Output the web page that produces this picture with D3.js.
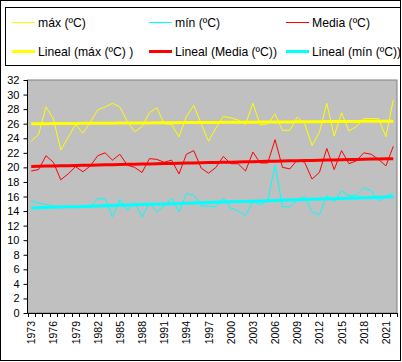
<!DOCTYPE html>
<head>
<meta charset="utf-8">
<style>
body { margin: 0; background: #fff; }
svg { display: block; font-family: Arial, "Liberation Sans", sans-serif; }
.axis text { fill: #000; }
</style>
</head>
<body>
<svg width="402" height="362"></svg>
<script src="https://cdnjs.cloudflare.com/ajax/libs/d3/7.8.5/d3.min.js"></script>
<script>

// data, 1973 - 2022
var years = d3.range(1973, 2023);

var maxT = [23.6, 24.5, 28.3, 26.7, 22.4, 24.1, 25.9, 24.7, 26.2, 27.9,
            28.3, 28.8, 28.3, 26.3, 24.9, 25.6, 27.5, 28.2, 26.0, 25.9,
            24.2, 27.0, 28.5, 26.0, 23.6, 25.4, 27.0, 26.8, 26.5, 25.9,
            28.8, 25.8, 26.0, 27.3, 25.1, 25.1, 26.9, 26.0, 23.0, 24.8,
            28.8, 24.3, 27.5, 25.0, 25.6, 26.7, 26.7, 26.7, 24.2, 29.3];

var minT = [15.4, 15.1, 14.9, 14.7, 14.5, 14.5, 14.5, 14.5, 14.6, 15.7,
            15.7, 13.2, 15.6, 14.1, 15.2, 13.2, 15.1, 13.9, 14.7, 15.8,
            13.9, 16.4, 16.2, 14.7, 14.7, 14.6, 15.8, 14.4, 14.0, 13.4,
            15.3, 14.9, 15.4, 20.3, 14.6, 14.6, 15.5, 16.0, 13.9, 13.5,
            16.1, 15.3, 16.8, 16.1, 16.2, 17.2, 16.8, 15.4, 16.0, 16.5];

var mediaT = [19.5, 19.7, 21.6, 20.7, 18.3, 19.1, 20.1, 19.4, 20.2, 21.6,
              22.0, 21.0, 21.8, 20.3, 20.0, 19.3, 21.2, 21.1, 20.7, 21.0,
              19.1, 21.8, 22.3, 19.9, 19.2, 20.0, 21.5, 20.5, 20.5, 19.5,
              22.1, 20.6, 20.6, 23.8, 20.0, 19.8, 21.0, 20.7, 18.4, 19.3,
              22.6, 19.7, 22.3, 20.5, 20.9, 22.0, 21.8, 21.1, 20.2, 22.9];

var yTicks = d3.range(0, 33, 2);
var labelYears = years.filter(function(d, i) { return i % 3 === 0; });

var svg = d3.select("svg");

var plot = { left: 27.5, right: 397, top: 80, bottom: 313 };

var x = d3.scaleBand()
    .domain(years)
    .range([plot.left, plot.right]);

var y = d3.scaleLinear()
    .domain([0, 32])
    .range([plot.bottom, plot.top]);

// outer frame
svg.append("rect")
    .attr("x", 0.5).attr("y", 0.5)
    .attr("width", 400).attr("height", 360)
    .attr("fill", "#fff")
    .attr("stroke", "#000");

// plot area
svg.append("rect")
    .attr("x", plot.left).attr("y", plot.top)
    .attr("width", plot.right - plot.left)
    .attr("height", plot.bottom - plot.top)
    .attr("fill", "#c0c0c0")
    .attr("stroke", "#808080");

// series lines
var line = d3.line()
    .x(function(d, i) { return x(years[i]) + x.bandwidth() / 2; })
    .y(function(d) { return y(d); });

// least squares fit, like the "Lineal" trendlines
function trend(values) {
  var mx = d3.mean(values, function(d, i) { return i; }),
      my = d3.mean(values),
      sxy = d3.sum(values, function(d, i) { return (i - mx) * (d - my); }),
      sxx = d3.sum(values, function(d, i) { return (i - mx) * (i - mx); }),
      b = sxy / sxx, a = my - b * mx;
  return values.map(function(d, i) { return a + b * i; });
}

var series = [
  { values: maxT,   color: "#ffff00" },
  { values: minT,   color: "#00ffff" },
  { values: mediaT, color: "#ff0000" }
];

series.forEach(function(s) {
  svg.append("path")
      .attr("d", line(s.values))
      .attr("fill", "none")
      .attr("stroke", s.color)
      .attr("stroke-width", 1);
});

var trends = [
  { values: maxT,   color: "#ffff00" },
  { values: mediaT, color: "#ff0000" },
  { values: minT,   color: "#00ffff" }
];

trends.forEach(function(s) {
  svg.append("path")
      .attr("d", line(trend(s.values)))
      .attr("stroke", s.color)
      .attr("stroke-width", 3)
      .attr("fill", "none");
});

// y axis
var yAxis = svg.append("g")
    .attr("class", "axis")
    .attr("transform", "translate(" + plot.left + ",0)")
    .call(d3.axisLeft(y).tickValues(yTicks).tickSize(4).tickPadding(4))
    .style("font-size", "11px")
    .style("font-family", "Arial, 'Liberation Sans', sans-serif");
yAxis.selectAll("line, path").attr("stroke", "#000");
yAxis.select(".domain").attr("d", "M0," + plot.top + "V" + plot.bottom);

// x axis: base line, ticks between categories, rotated labels
svg.append("line")
    .attr("x1", plot.left).attr("x2", plot.right)
    .attr("y1", plot.bottom + 0.5).attr("y2", plot.bottom + 0.5)
    .attr("stroke", "#000");

svg.selectAll(".xtick")
  .data(years.concat([null]))
  .enter().append("line")
    .attr("class", "xtick")
    .attr("x1", function(d) { return Math.round(d === null ? plot.right : x(d)) + 0.5; })
    .attr("x2", function(d) { return Math.round(d === null ? plot.right : x(d)) + 0.5; })
    .attr("y1", plot.bottom)
    .attr("y2", plot.bottom + 4)
    .attr("stroke", "#000");

svg.selectAll(".xlabel")
  .data(labelYears)
  .enter().append("text")
    .attr("class", "xlabel")
    .attr("transform", function(d) {
      return "translate(" + (x(d) + x.bandwidth() / 2 + 4) + "," + (plot.bottom + 8) + ") rotate(-90)";
    })
    .attr("text-anchor", "end")
    .style("font-size", "10.5px")
    .text(function(d) { return d; });

// legend
var legendItems = [
  { label: "máx (ºC)",             color: "#ffff00", w: 1, col: 0, row: 0 },
  { label: "mín (ºC)",             color: "#00ffff", w: 1, col: 1, row: 0 },
  { label: "Media (ºC)",           color: "#ff0000", w: 1, col: 2, row: 0 },
  { label: "Lineal (máx (ºC) )",   color: "#ffff00", w: 3, col: 0, row: 1 },
  { label: "Lineal (Media (ºC))",  color: "#ff0000", w: 3, col: 1, row: 1 },
  { label: "Lineal (mín (ºC))",    color: "#00ffff", w: 3, col: 2, row: 1 }
];

svg.append("clipPath").attr("id", "frameclip")
  .append("rect").attr("x", 0).attr("y", 0).attr("width", 400).attr("height", 360);

var legend = svg.append("g").attr("clip-path", "url(#frameclip)");

legend.append("rect")
    .attr("x", 5.5).attr("y", 7.5)
    .attr("width", 420).attr("height", 58)
    .attr("fill", "#fff")
    .attr("stroke", "#000");

var colX = [12, 149, 286];
var rowY = [22, 51];

var li = legend.selectAll(".li")
  .data(legendItems)
  .enter().append("g")
    .attr("transform", function(d) { return "translate(" + colX[d.col] + "," + rowY[d.row] + ")"; });

li.append("line")
    .attr("x1", 0).attr("x2", 23)
    .attr("y1", 0.5).attr("y2", 0.5)
    .attr("stroke", function(d) { return d.color; })
    .attr("stroke-width", function(d) { return d.w; });

li.append("text")
    .attr("x", 26)
    .attr("y", 4.5)
    .style("font-size", "12.2px")
    .attr("fill", "#000")
    .text(function(d) { return d.label; });

svg.append("rect")
    .attr("x", 0.5).attr("y", 0.5)
    .attr("width", 400).attr("height", 360)
    .attr("fill", "none")
    .attr("stroke", "#000");

</script>
</body>
